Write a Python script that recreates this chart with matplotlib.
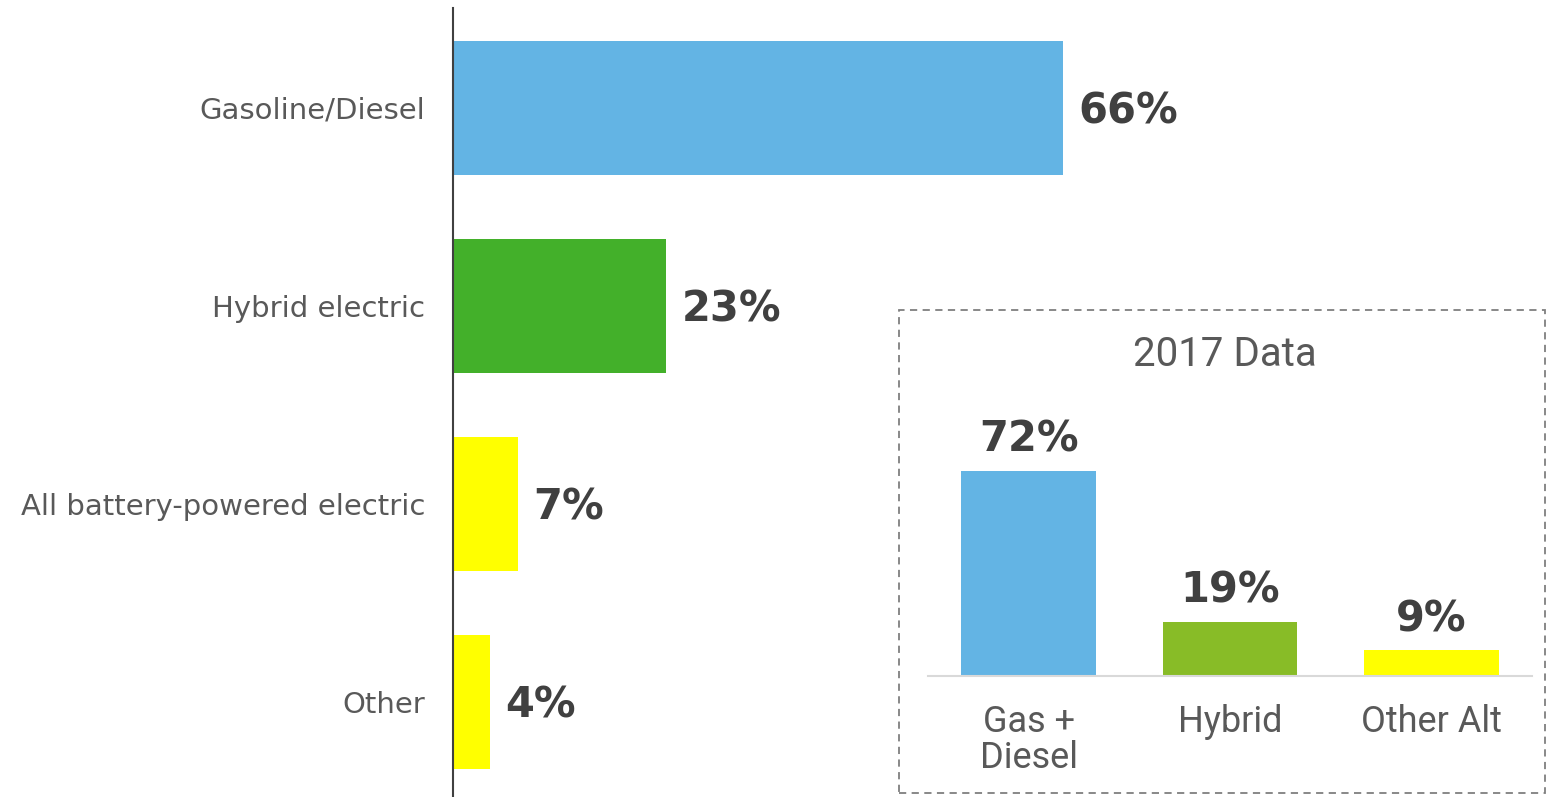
import matplotlib.pyplot as plt
from matplotlib.patches import Rectangle

# main chart data
categories = ["Gasoline/Diesel", "Hybrid electric", "All battery-powered electric", "Other"]
shares = [66, 23, 7, 4]
bar_colors = ["#63B4E4", "#43B02A", "#FFFF00", "#FFFF00"]

# inset (2017) data
inset_title = "2017 Data"
inset_categories = ["Gas +\nDiesel", "Hybrid", "Other Alt"]
inset_shares = [72, 19, 9]
inset_colors = ["#63B4E4", "#88BC27", "#FFFF00"]

W, H = 1548, 797
fig = plt.figure(figsize=(W / 100, H / 100), dpi=100)

# main horizontal bars
ax = fig.add_axes([453 / W, 0, 1 - 453 / W, 789 / H])
ypos = list(range(len(categories)))
ax.barh(ypos, shares, height=0.677, color=bar_colors)
ax.set_ylim(3.48, -0.505)
ax.set_xlim(0, (W - 453) / 9.242)
for y, v in zip(ypos, shares):
    ax.text(v + 1.7, y + 0.02, f"{v}%", va="center", ha="left",
            fontsize=30, fontweight="bold", color="#404040")
ax.set_yticks(ypos)
ax.set_yticklabels(categories, fontsize=21, color="#595959")
ax.tick_params(axis="y", length=0, pad=20)
ax.set_xticks([])
for s in ["top", "right", "bottom"]:
    ax.spines[s].set_visible(False)
ax.spines["left"].set_color("#404040")
ax.spines["left"].set_linewidth(1.5)

# dashed frame around inset
fig.patches.append(Rectangle((899 / W, 1 - 793 / H), (1545 - 899) / W, (793 - 310) / H,
                             transform=fig.transFigure, fill=False,
                             edgecolor="#7f7f7f", linewidth=1.3, linestyle=(0, (4, 3))))
fig.text(1225 / W, 1 - 354 / H, inset_title, ha="center", va="center",
         fontsize=29, color="#595959", family="Roboto")

# inset bars
ax2 = fig.add_axes([928 / W, 1 - 676 / H, (1532 - 928) / W, 280 / H])
xpos = list(range(len(inset_categories)))
ax2.bar(xpos, inset_shares, width=0.67, color=inset_colors)
ax2.set_xlim(-0.5, 2.5)
ax2.set_ylim(0, 280 / 2.85)
for x, v in zip(xpos, inset_shares):
    ax2.text(x, v + 3.5, f"{v}%", ha="center", va="bottom",
             fontsize=30, fontweight="bold", color="#404040")
ax2.set_xticks(xpos)
ax2.set_xticklabels(inset_categories, fontsize=26, color="#595959",
                    family="Roboto", linespacing=1.0)
ax2.tick_params(axis="x", length=0, pad=20)
ax2.set_yticks([])
for s in ["top", "right", "left"]:
    ax2.spines[s].set_visible(False)
ax2.spines["bottom"].set_color("#d9d9d9")
ax2.spines["bottom"].set_linewidth(1.5)
ax2.patch.set_alpha(0)

fig.savefig("out.png", dpi=100)
